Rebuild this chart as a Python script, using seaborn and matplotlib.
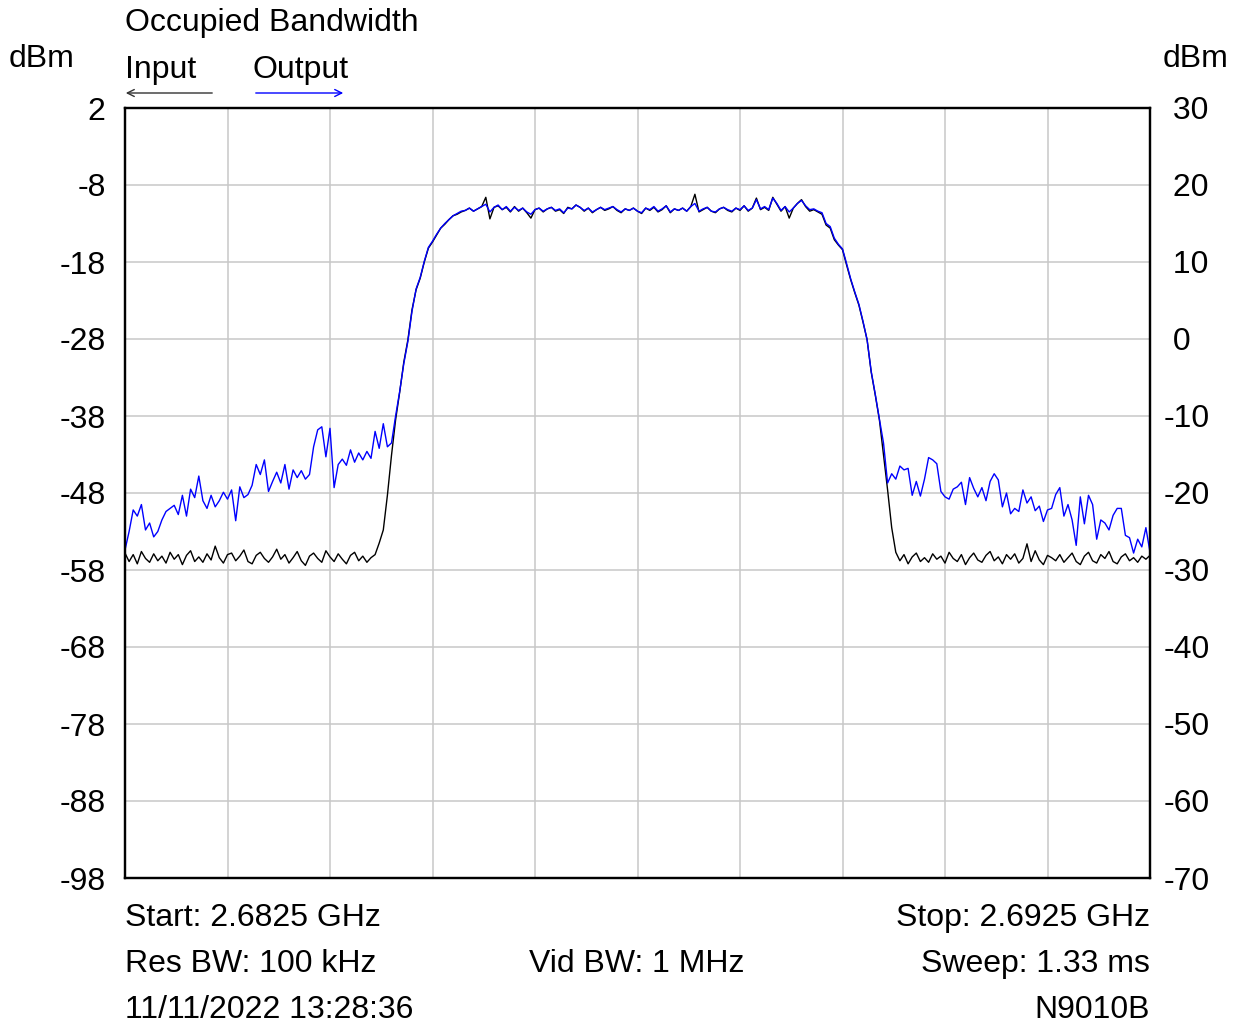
import numpy as np
import pandas as pd
import seaborn as sns
import matplotlib.pyplot as plt
from matplotlib.patches import FancyArrowPatch

# sweep: 251 points from start to stop (MHz)
start_mhz = 2682.5
stop_mhz = 2692.5
n_points = 251

# Input trace (left axis, dBm)
input_dbm = [
    -55.8, -56.9, -56.0, -57.2, -55.6, -56.5, -57.0, -55.9, -56.8, -56.2,
    -57.1, -55.7, -56.6, -56.0, -57.3, -56.1, -55.5, -56.9, -56.3, -57.0,
    -55.9, -56.7, -54.9, -56.4, -57.1, -56.0, -55.8, -56.8, -56.2, -55.4,
    -56.9, -57.2, -56.1, -55.7, -56.5, -57.0, -56.3, -55.3, -56.6, -56.0,
    -57.1, -56.4, -55.6, -56.8, -57.4, -56.2, -55.8, -56.5, -57.0, -55.5,
    -56.3, -56.9, -55.9, -56.6, -57.2, -56.1, -55.7, -56.8, -56.2, -57.0,
    -56.4, -56.0,
    -54.5, -52.8, -48.3, -43.1, -38.5, -34.9, -31.0, -28.1, -24.2, -21.6,
    -20.1, -18.0, -16.2, -15.4, -14.5, -13.6, -13.1, -12.5, -12.0, -11.8,
    -11.5,
    -11.3, -11.0, -11.4, -11.1, -10.8, -9.6, -12.4, -10.9, -10.7, -11.2,
    -10.9, -11.5, -10.8, -11.4, -11.0, -11.6, -12.3, -11.2, -11.0, -11.5,
    -11.1, -10.9, -11.4, -11.2, -11.7, -10.9, -11.1, -10.6, -10.9, -11.4,
    -11.0, -11.6, -11.2, -10.9, -11.3, -11.1, -10.8, -11.3, -11.6, -11.1,
    -11.3, -11.0, -11.4, -11.7, -11.0, -11.3, -10.9, -11.5, -11.2, -10.7,
    -11.6, -11.1, -11.3, -11.0, -11.4, -10.8, -9.2, -11.5, -11.2, -10.9,
    -11.4, -11.6, -11.1, -10.9, -11.3, -11.5, -11.0, -11.3, -10.7, -11.4,
    -11.0, -9.7, -11.2, -10.9, -11.3, -9.6, -10.5, -11.4, -10.8, -12.3,
    -11.0, -10.4, -9.9, -10.8, -11.4, -11.2, -11.5,
    -11.8, -13.2, -13.6, -15.1, -15.8, -16.4, -18.4, -20.3, -22.0, -23.6,
    -25.8, -28.1, -32.3, -35.3, -38.5, -43.1, -47.6, -52.5, -55.7,
    -56.8, -56.0, -57.2, -56.3, -55.8, -56.9, -56.4, -57.0, -55.9, -56.6,
    -56.2, -57.1, -55.7, -56.5, -56.9, -56.0, -57.3, -56.4, -55.8, -56.7,
    -57.0, -56.1, -55.6, -56.8, -56.3, -57.2, -56.0, -56.6, -55.9, -57.1,
    -56.5, -54.6, -56.9, -55.5, -56.7, -57.3, -56.1, -56.4, -56.8, -56.0,
    -57.0, -56.4, -55.8, -56.9, -57.3, -56.2, -55.7, -56.8, -57.1, -56.0,
    -56.5, -55.6, -56.9, -57.2, -56.3, -55.9, -56.8, -56.4, -57.0, -56.2,
    -56.6, -56.1,
]

# Output trace (right axis, dBm)
output_dbm = [
    -27.4, -25.0, -22.2, -23.0, -21.5, -24.8, -23.9, -25.7, -25.0, -23.5,
    -22.4, -22.0, -21.6, -22.8, -20.3, -23.0, -19.5, -20.6, -17.8, -21.0,
    -22.0, -20.3, -21.8, -21.0, -19.9, -20.8, -19.6, -23.6, -19.2, -20.6,
    -20.2, -19.0, -16.3, -17.6, -15.7, -19.8, -18.5, -17.3, -18.7, -16.3,
    -19.5, -17.0, -18.0, -17.1, -18.2, -17.6, -14.0, -11.8, -11.4, -15.3,
    -11.6, -19.3, -16.3, -15.6, -16.4, -14.4, -16.0, -14.8, -15.7, -14.6,
    -15.5, -12.0, -14.2, -11.0, -14.0, -13.5,
    -10.0, -6.8, -3.2, -0.3, 3.6, 6.5, 8.0, 10.1, 11.9, 12.7,
    13.6, 14.4, 15.0, 15.5, 16.0, 16.3, 16.6,
    16.7, 17.0, 16.6, 16.9, 17.2, 17.5, 16.5, 17.1, 17.4, 16.8,
    17.2, 16.6, 17.1, 16.7, 17.0, 16.5, 16.2, 16.8, 17.0, 16.6,
    16.9, 17.1, 16.7, 16.9, 16.4, 17.0, 16.9, 17.4, 17.1, 16.7,
    17.0, 16.5, 16.8, 17.1, 16.8, 17.0, 17.2, 16.8, 16.5, 16.9,
    16.7, 17.0, 16.6, 16.4, 17.0, 16.8, 17.2, 16.6, 16.9, 17.3,
    16.5, 16.9, 16.7, 17.0, 16.6, 17.2, 17.6, 16.6, 16.9, 17.1,
    16.6, 16.5, 16.9, 17.1, 16.8, 16.6, 17.0, 16.8, 17.3, 16.7,
    17.0, 18.1, 16.9, 17.2, 16.8, 18.3, 17.6, 16.7, 17.2, 16.5,
    17.0, 17.6, 18.0, 17.3, 16.8, 16.9, 16.6,
    16.4, 15.0, 14.6, 13.1, 12.3, 11.7, 9.8, 7.8, 6.1, 4.5,
    2.3, -0.1, -4.2, -7.2, -10.4, -13.5,
    -18.7, -17.5, -18.2, -16.5, -17.0, -16.8, -20.3, -18.5, -20.4, -18.2,
    -15.4, -15.7, -16.2, -19.8, -20.5, -20.8, -19.5, -19.2, -18.6, -21.5,
    -18.0, -19.4, -20.5, -19.3, -21.0, -18.5, -17.5, -18.3, -21.8, -20.0,
    -22.7, -22.0, -22.4, -19.6, -21.3, -20.5, -22.3, -21.7, -23.7, -22.2,
    -22.0, -20.2, -19.3, -23.0, -21.5, -23.5, -26.8, -20.5, -24.0, -20.3,
    -21.5, -26.0, -23.5, -23.9, -24.8, -22.9, -22.0, -22.0, -25.5, -25.8,
    -27.8, -26.0, -27.0, -24.5, -27.7,
]

left_ticks = [-98, -88, -78, -68, -58, -48, -38, -28, -18, -8, 2]
right_ticks = [-70, -60, -50, -40, -30, -20, -10, 0, 10, 20, 30]

info_left = ["Start: 2.6825 GHz", "Res BW: 100 kHz", "11/11/2022 13:28:36"]
info_right = ["Stop: 2.6925 GHz", "Sweep: 1.33 ms", "N9010B"]
info_mid = "Vid BW: 1 MHz"


def main():
    sns.set_style("white")
    plt.rcParams['font.family'] = ['Liberation Sans', 'DejaVu Sans']
    plt.rcParams['text.color'] = 'black'
    plt.rcParams['xtick.color'] = 'black'
    plt.rcParams['ytick.color'] = 'black'
    fs = 23

    freq = np.linspace(start_mhz, stop_mhz, n_points)
    df = pd.DataFrame({"freq": freq, "input": input_dbm, "output": output_dbm})

    W, H = 1239, 1027
    fig = plt.figure(figsize=(W / 100, H / 100), dpi=100)
    ax = fig.add_axes([125 / W, 1 - 878 / H, 1025 / W, 770 / H])
    ax2 = ax.twinx()

    sns.lineplot(data=df, x="freq", y="input", ax=ax, color="black", linewidth=1.0)
    sns.lineplot(data=df, x="freq", y="output", ax=ax2, color="#0000ff", linewidth=1.0)

    ax.set_xlim(start_mhz, stop_mhz)
    ax.set_ylim(-98, 2)
    ax2.set_ylim(-70, 30)

    ax.set_xticks(np.linspace(start_mhz, stop_mhz, 11))
    ax.set_xticklabels([])
    ax.set_yticks(left_ticks)
    ax.set_yticklabels([str(t) for t in left_ticks], fontsize=fs, color="black")
    ax2.set_yticks(right_ticks)
    ax2.set_yticklabels([(" " + str(t)) if t >= 0 else str(t) for t in right_ticks],
                        fontsize=fs, ha="left", color="black")
    ax.tick_params(axis="both", length=0, pad=14)
    ax2.tick_params(axis="y", length=0, pad=10)
    ax.grid(True, color="#c8c8c8", linewidth=1.1)
    ax.set_xlabel("")
    ax.set_ylabel("")
    ax2.set_ylabel("")
    for a in (ax, ax2):
        for s in a.spines.values():
            s.set_color("black")
            s.set_linewidth(1.6)

    def put(x, y, s, ha="left"):
        fig.text(x / W, 1 - y / H, s, fontsize=fs, va="center", ha=ha, color="black")

    # header
    put(125, 23, "Occupied Bandwidth")
    put(42, 59, "dBm", "center")
    put(1196, 59, "dBm", "center")
    put(125, 70, "Input")
    put(253, 70, "Output")
    ay = 1 - 93 / H
    fig.patches.append(FancyArrowPatch(
        (215 / W, ay), (123 / W, ay), transform=fig.transFigure,
        arrowstyle="->,head_length=5,head_width=2.5", color="#333333", linewidth=1.0))
    fig.patches.append(FancyArrowPatch(
        (253 / W, ay), (346 / W, ay), transform=fig.transFigure,
        arrowstyle="->,head_length=5,head_width=2.5", color="#0000ff", linewidth=1.0))

    # footer
    rows = [918, 964, 1010]
    for txt, yy in zip(info_left, rows):
        put(125, yy, txt)
    for txt, yy in zip(info_right, rows):
        put(1150, yy, txt, "right")
    put(637, 964, info_mid, "center")

    fig.savefig("out.png", dpi=100)
    plt.close(fig)


if __name__ == '__main__':
    main()
